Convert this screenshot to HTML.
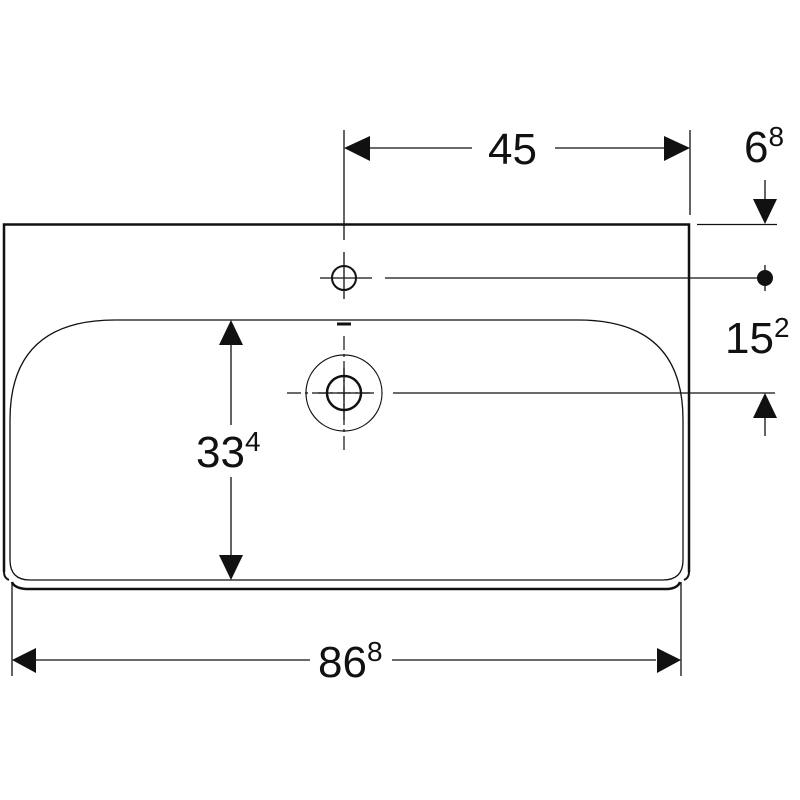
<!DOCTYPE html>
<html><head><meta charset="utf-8"><style>html,body{margin:0;padding:0;background:#fff}svg{display:block}</style></head>
<body>
<svg width="800" height="800" viewBox="0 0 800 800" xmlns="http://www.w3.org/2000/svg" font-family="Liberation Sans, sans-serif">
<g fill="none" stroke="#111">
<path d="M4,572 V224.5 H689 V572" stroke-width="2.5"/>
<path d="M4,572 Q4,578 9,580" stroke-width="2"/>
<path d="M689,572 Q689,578 684,580" stroke-width="2"/>
<path d="M12,582 Q14,588 26,589 H668 Q678,588 680,582" stroke-width="2.5"/>
<path d="M10,560 V420 Q10,320 115,320 H578 Q683,320 683,420 V560 Q683,580 663,580 H30 Q10,580 10,560 Z" stroke-width="1.3"/>
<circle cx="344" cy="278" r="12" stroke-width="2"/>
<path d="M320,278 H372 M344,252 V299" stroke-width="1.3"/>
<path d="M385,278 H758" stroke-width="1.3"/>
<path d="M344,130 V240" stroke-width="1.3"/>
<circle cx="344" cy="393" r="38" stroke-width="1.2"/>
<circle cx="344" cy="393" r="17" stroke-width="2.5"/>
<path d="M287,393 H374 M344,336 V451" stroke-width="1.2" stroke-dasharray="14,4,3,4"/>
<path d="M318,393 H370 M344,368 V420" stroke-width="1.3"/>
<path d="M393,393 H775" stroke-width="1.3"/>
<path d="M337,324 H351" stroke-width="3"/>
<path d="M690,130 V215" stroke-width="1.3"/>
<path d="M697,224.5 H777" stroke-width="1.3"/>
<path d="M765,180 V210" stroke-width="1.3"/>
<path d="M765,265 V291" stroke-width="1.3"/>
<path d="M765,410 V436" stroke-width="1.3"/>
<path d="M370,148 H472 M555,148 H665" stroke-width="1.3"/>
<path d="M231,345 V425 M231,477 V555" stroke-width="1.3"/>
<path d="M12,582 V676 M681,582 V676" stroke-width="1.3"/>
<path d="M36,660 H310 M392,660 H656" stroke-width="1.3"/>
</g>
<g fill="#111">
<circle cx="765" cy="278" r="8"/>
<polygon points="344,148 370,136 370,161"/>
<polygon points="690,148 664,136 664,161"/>
<polygon points="765,224 753,199 777,199"/>
<polygon points="765,393 753,418 777,418"/>
<polygon points="231,320 219,345 243,345"/>
<polygon points="231,580 219,555 243,555"/>
<polygon points="12,660 36,648 36,673"/>
<polygon points="681,660 657,648 657,673"/>
</g>
<g fill="#111" font-size="44">
<text x="488" y="164">45</text>
<text x="744" y="162">6<tspan font-size="28" dy="-16">8</tspan></text>
<text x="725" y="353">15<tspan font-size="28" dy="-16">2</tspan></text>
<text x="196" y="467">33<tspan font-size="28" dy="-16">4</tspan></text>
<text x="318" y="677">86<tspan font-size="28" dy="-16">8</tspan></text>
</g>
</svg>
</body></html>
